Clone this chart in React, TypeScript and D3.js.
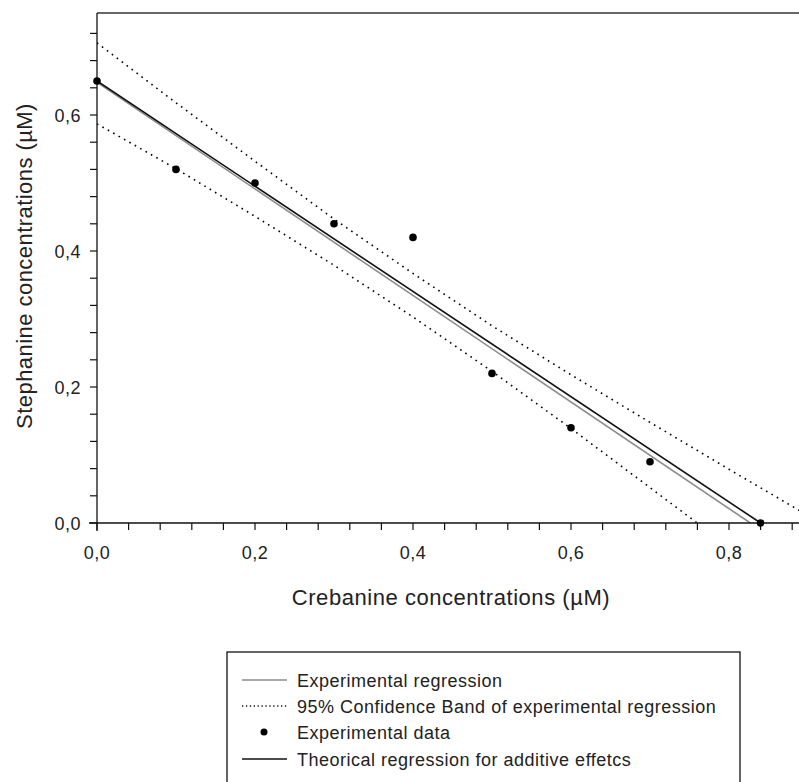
import React, { useRef, useEffect } from 'react';
import * as d3 from 'd3';

// Experimental data points
const dataX = [0, 0.1, 0.2, 0.3, 0.4, 0.5, 0.6, 0.7, 0.84];
const dataY = [0.65, 0.52, 0.5, 0.44, 0.42, 0.22, 0.14, 0.09, 0];

// Regression lines
const expRegX = [0, 0.827];
const expRegY = [0.648, 0];
const theoX = [0, 0.84];
const theoY = [0.65, 0];

// 95% confidence band, read at these x positions
const bandX = [0, 0.1, 0.2, 0.3, 0.4, 0.5, 0.6, 0.7, 0.8, 0.9];
const bandUpper = [0.706, 0.618, 0.532, 0.447, 0.367, 0.29, 0.218, 0.148, 0.079, 0.011];
const bandLower = [0.587, 0.521, 0.451, 0.379, 0.303, 0.223, 0.139, 0.052, -0.035, -0.124];

const xMajorTicks = [0, 0.2, 0.4, 0.6, 0.8];
const yMajorTicks = [0, 0.2, 0.4, 0.6];

const xTitle = 'Crebanine concentrations (µM)';
const yTitle = 'Stephanine concentrations (µM)';

const legendItems = [
  { label: 'Experimental regression', kind: 'gray' },
  { label: '95% Confidence Band of experimental regression', kind: 'dotted' },
  { label: 'Experimental data', kind: 'dot' },
  { label: 'Theorical regression for additive effetcs', kind: 'black' },
];

const FONT = '"Liberation Sans", Arial, sans-serif';

const App = () => {
  const svgRef = useRef<SVGSVGElement>(null);

  useEffect(() => {
    const svg = d3.select(svgRef.current);
    svg.selectAll('*').remove();

    const width = 799;
    const height = 782;
    const left = 97;
    const top = 13;
    const bottom = 523;

    const x = d3.scaleLinear().domain([0, 0.9]).range([left, left + 0.9 * 790]);
    const y = d3.scaleLinear().domain([0, 0.75]).range([bottom, top]);

    const locale = d3.formatLocale({ decimal: ',', thousands: '.', grouping: [3], currency: ['', ''] });
    const fmt = locale.format('.1f');

    svg.append('rect').attr('width', width).attr('height', height).attr('fill', '#fff');

    // clip for plotted lines
    svg.append('defs').append('clipPath').attr('id', 'plotClip')
      .append('rect')
      .attr('x', left).attr('y', top)
      .attr('width', width - left).attr('height', bottom - top);

    const g = svg.append('g').attr('clip-path', 'url(#plotClip)');

    const line = d3.line<[number, number]>().x(d => x(d[0])).y(d => y(d[1]));

    // confidence band (dotted)
    [bandUpper, bandLower].forEach(vals => {
      g.append('path')
        .attr('d', line(bandX.map((v, i) => [v, vals[i]] as [number, number])))
        .attr('fill', 'none')
        .attr('stroke', '#000')
        .attr('stroke-width', 1.6)
        .attr('stroke-dasharray', '1.6,4.6');
    });

    // experimental regression (gray)
    g.append('path')
      .attr('d', line(expRegX.map((v, i) => [v, expRegY[i]] as [number, number])))
      .attr('fill', 'none')
      .attr('stroke', '#8c8c8c')
      .attr('stroke-width', 1.6);

    // theoretical regression (black)
    g.append('path')
      .attr('d', line(theoX.map((v, i) => [v, theoY[i]] as [number, number])))
      .attr('fill', 'none')
      .attr('stroke', '#111')
      .attr('stroke-width', 1.6);

    // frame: top line, left axis, bottom axis
    svg.append('line')
      .attr('x1', left).attr('x2', width).attr('y1', top).attr('y2', top)
      .attr('stroke', '#333').attr('stroke-width', 1.5);
    svg.append('line')
      .attr('x1', left).attr('x2', left).attr('y1', top).attr('y2', bottom + 8)
      .attr('stroke', '#111').attr('stroke-width', 1.3);
    svg.append('line')
      .attr('x1', left - 8).attr('x2', width).attr('y1', bottom).attr('y2', bottom)
      .attr('stroke', '#111').attr('stroke-width', 1.3);

    // ticks
    const xMinor = d3.range(0, 0.9, 0.04);
    svg.selectAll('.xtick').data(xMinor).enter().append('line')
      .attr('x1', d => x(d)).attr('x2', d => x(d))
      .attr('y1', bottom).attr('y2', bottom + 7)
      .attr('stroke', '#111').attr('stroke-width', 1.2);
    const yMinor = d3.range(0, 0.73, 0.04);
    svg.selectAll('.ytick').data(yMinor).enter().append('line')
      .attr('x1', left - 7).attr('x2', left)
      .attr('y1', d => y(d)).attr('y2', d => y(d))
      .attr('stroke', '#111').attr('stroke-width', 1.2);

    svg.selectAll('.xlab').data(xMajorTicks).enter().append('text')
      .attr('x', d => x(d)).attr('y', 559)
      .attr('text-anchor', 'middle')
      .style('font-family', FONT).style('font-size', '18px').attr('fill', '#222')
      .attr('letter-spacing', 0.5)
      .text(d => fmt(d));

    svg.selectAll('.ylab').data(yMajorTicks).enter().append('text')
      .attr('x', 81).attr('y', d => y(d) + 6.5)
      .attr('text-anchor', 'end')
      .style('font-family', FONT).style('font-size', '18px').attr('fill', '#222')
      .attr('letter-spacing', 0.5)
      .text(d => fmt(d));

    // axis titles
    svg.append('text')
      .attr('x', 451).attr('y', 605)
      .attr('text-anchor', 'middle')
      .style('font-family', FONT).style('font-size', '22px').attr('fill', '#222')
      .attr('letter-spacing', 0.55)
      .text(xTitle);
    svg.append('text')
      .attr('transform', 'translate(32,266) rotate(-90)')
      .attr('text-anchor', 'middle')
      .style('font-family', FONT).style('font-size', '22px').attr('fill', '#222')
      .attr('letter-spacing', 0.45)
      .text(yTitle);

    // data points
    svg.selectAll('.pt').data(dataX).enter().append('circle')
      .attr('cx', d => x(d))
      .attr('cy', (d, i) => y(dataY[i]))
      .attr('r', 3.8)
      .attr('fill', '#000');

    // legend
    const lg = svg.append('g');
    lg.append('rect')
      .attr('x', 227).attr('y', 652)
      .attr('width', 740 - 227).attr('height', 140)
      .attr('fill', '#fff').attr('stroke', '#111').attr('stroke-width', 1.3);

    const rowY = [680, 706, 732, 759];
    legendItems.forEach((item, i) => {
      const cy = rowY[i];
      if (item.kind === 'dot') {
        lg.append('circle').attr('cx', 264).attr('cy', cy).attr('r', 3.5).attr('fill', '#000');
      } else {
        lg.append('line')
          .attr('x1', 242).attr('x2', 287).attr('y1', cy).attr('y2', cy)
          .attr('stroke', item.kind === 'gray' ? '#8c8c8c' : '#111')
          .attr('stroke-width', item.kind === 'dotted' ? 1.3 : 1.4)
          .attr('stroke-dasharray', item.kind === 'dotted' ? '1.3,2.6' : null);
      }
      lg.append('text')
        .attr('x', 297).attr('y', cy + 6.5)
        .style('font-family', FONT).style('font-size', '18px').attr('fill', '#222')
        .attr('letter-spacing', 0.5)
        .text(item.label);
    });
  }, []);

  return (
    <svg
      ref={svgRef}
      width={799}
      height={782}
      style={{ position: 'absolute', left: 0, top: 0, display: 'block' }}
    ></svg>
  );
};

export default App;
